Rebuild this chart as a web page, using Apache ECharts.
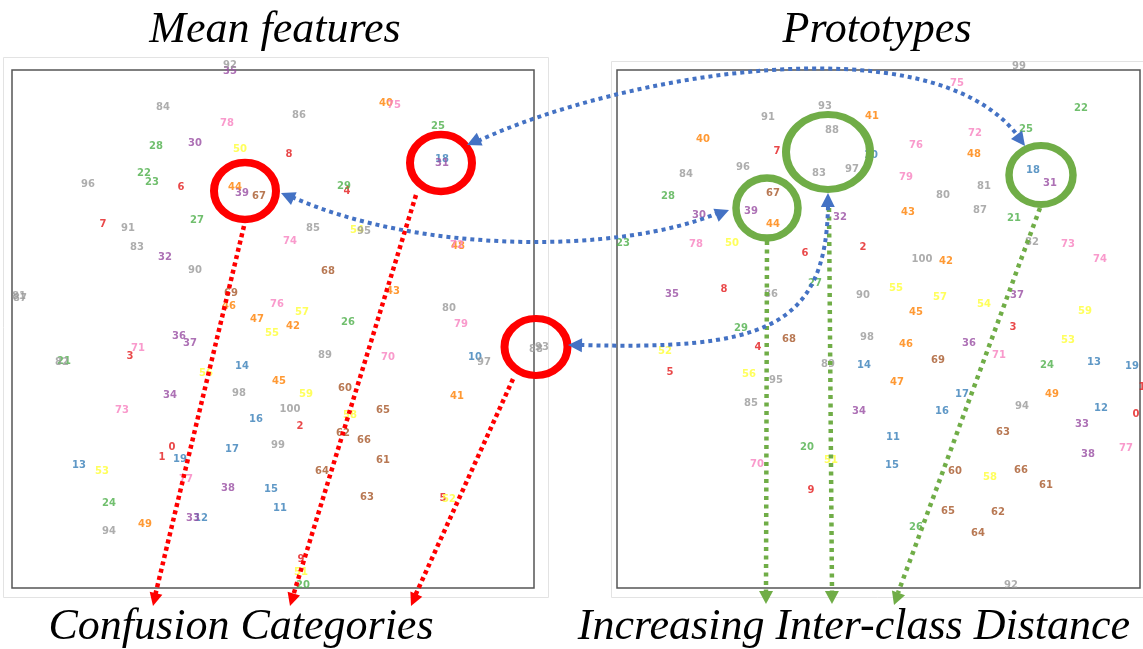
<!DOCTYPE html>
<html><head><meta charset="utf-8">
<script src="https://cdn.jsdelivr.net/npm/echarts@6/dist/echarts.min.js"></script>
<style>html,body{margin:0;padding:0;background:#fff}#c{width:1143px;height:649px}</style>
</head><body><div id="c"></div>
<script>
// class ids 0..100
const classIds = Array.from({length: 101}, (_, i) => i);
// Mean features embedding (left panel)
const meanX = [16.0,15.0,28.8,11.8,33.5,43.1,16.9,9.1,27.7,28.9,
 46.3,26.8,18.9,6.7,23.0,25.9,24.4,22.0,43.0,16.8,
 29.1,5.2,13.2,14.0,9.7,42.6,33.6,18.5,14.4,33.2,
 18.3,43.0,15.3,18.1,15.8,21.8,16.7,17.8,21.6,23.0,
 37.4,44.5,28.1,38.1,22.3,26.7,21.7,24.5,44.6,13.3,
 22.8,28.9,43.7,9.0,34.5,26.0,19.4,29.0,33.8,29.4,
 33.3,37.1,33.1,35.5,31.0,37.1,35.2,24.7,31.6,21.9,
 37.6,12.6,44.5,11.0,27.8,38.2,26.5,17.4,21.5,44.9,
 43.7,0.7,5.0,12.5,15.1,30.1,28.7,0.8,52.4,31.3,
 18.3,11.6,21.8,53.0,9.7,35.2,7.6,47.2,22.7,26.6,27.8];
const meanY = [14.1,13.1,16.2,23.2,39.7,9.0,40.1,36.4,43.4,2.9,
 23.1,8.0,7.0,12.3,22.2,9.9,16.9,13.9,42.9,12.9,
 0.3,22.7,41.5,40.6,8.5,46.2,26.6,36.8,44.2,40.2,
 44.5,42.5,33.1,7.0,19.3,51.7,25.2,24.5,10.0,39.5,
 48.5,19.2,26.2,29.7,40.1,20.7,28.2,26.9,34.2,6.4,
 43.9,1.6,8.9,11.7,35.8,25.5,21.5,27.6,17.3,19.4,
 20.0,12.8,15.5,9.1,11.7,17.8,14.8,39.2,31.7,29.5,
 23.1,24.0,34.3,17.8,34.7,48.3,28.4,10.9,46.5,26.4,
 28.0,29.2,22.6,34.1,48.1,36.0,47.3,29.0,23.9,23.3,
 31.8,36.0,52.3,24.1,5.7,35.7,40.4,22.6,19.5,14.3,17.9];
// Prototypes embedding (right panel)
const protoX = [51.9,52.5,24.6,39.6,14.1,5.3,18.8,16.0,10.7,19.4,
 25.4,27.6,48.4,47.7,24.7,27.5,32.5,34.5,41.6,51.5,
 19.0,39.7,46.4,0.6,43.0,40.9,29.9,19.8,5.1,12.4,
 8.2,43.3,22.3,46.5,24.2,5.5,35.2,40.0,47.1,13.4,
 8.6,25.5,32.9,29.1,15.6,29.9,28.9,28.0,35.7,43.5,
 11.5,21.4,4.8,45.1,36.7,27.9,13.2,32.3,37.3,46.8,
 33.8,42.9,38.1,38.6,36.1,33.1,40.4,15.6,17.2,32.1,
 14.0,38.2,35.8,45.1,48.3,34.0,29.9,50.9,7.9,28.9,
 32.6,36.7,41.5,20.2,6.9,13.4,15.4,36.3,21.5,21.1,
 24.6,15.1,39.4,20.8,40.5,15.9,12.6,23.5,25.0,40.2,30.5];
const protoY = [17.4,20.1,34.1,26.1,24.1,21.6,33.5,43.7,29.9,9.8,
 43.3,15.1,18.0,22.6,22.3,12.3,17.7,19.4,41.8,22.2,
 14.1,37.0,48.0,34.5,22.3,45.9,6.1,30.5,39.2,26.0,
 37.3,40.5,37.1,16.4,17.7,29.4,24.5,29.3,13.4,37.7,
 44.9,47.2,32.7,37.6,36.4,27.6,24.4,20.6,43.4,19.4,
 34.5,12.8,23.7,24.8,28.4,30.0,21.4,29.1,11.1,27.7,
 11.7,10.3,7.6,15.6,5.5,7.7,11.8,39.5,24.9,22.8,
 12.4,23.3,45.5,34.4,32.9,50.5,44.3,14.0,34.4,41.1,
 39.3,40.2,34.6,41.5,41.4,18.5,29.4,37.8,45.8,22.4,
 29.3,47.1,0.3,48.2,18.2,20.8,42.1,41.9,25.1,52.2,32.9];
const groupColors = ['#e41a1c','#377eb8','#4daf4a','#984ea3','#ff7f00',
 '#ffff33','#a65628','#f781bf','#999999','#999999'];
const topTitles = ['Mean features', 'Prototypes'];
const bottomTitles = ['Confusion Categories', 'Increasing Inter-class Distance'];

const panels = [
  {xs: meanX, ys: meanY, grid: {left: 12, top: 70, width: 522, height: 518}, xmax: 52.2},
  {xs: protoX, ys: protoY, grid: {left: 617, top: 70, width: 523, height: 518}, xmax: 52.3}
];

const series = [];
panels.forEach((p, pi) => {
  for (let g = 0; g < 10; g++) {
    const data = classIds.filter(id => Math.min(Math.floor(id / 10), 9) === g)
      .map(id => [p.xs[id], p.ys[id], String(id)]);
    series.push({
      type: 'scatter', xAxisIndex: pi, yAxisIndex: pi, data,
      symbolSize: 1, clip: false, silent: true,
      itemStyle: {color: 'rgba(0,0,0,0)'},
      label: {show: true, position: 'inside', formatter: d => d.data[2],
        color: groupColors[g], fontFamily: 'DejaVu Sans', fontWeight: 'bold', fontSize: 10}
    });
  }
});

const axisCommon = {axisLine: {show: false}, axisTick: {show: false}, axisLabel: {show: false}, splitLine: {show: false}};

// ---------- annotations ----------
const BLUE = '#4472c4', RED = '#ff0000', GREEN = '#70ad47';
const gfx = [];
function head(tx, ty, fx, fy, len, hw, color) {
  const dx = tx - fx, dy = ty - fy, L = Math.hypot(dx, dy);
  const ux = dx / L, uy = dy / L;
  const bx = tx - ux * len, by = ty - uy * len;
  gfx.push({type: 'polygon', z: 60, shape: {points: [[tx, ty], [bx - uy * hw, by + ux * hw], [bx + uy * hw, by - ux * hw]]},
    style: {fill: color}});
}
function dottedLine(x1, y1, x2, y2, color, lw, dash) {
  gfx.push({type: 'line', z: 55, shape: {x1, y1, x2, y2}, style: {stroke: color, lineWidth: lw, lineDash: dash, lineCap: 'butt'}});
}
function dottedCurve(x1, y1, cpx1, cpy1, cpx2, cpy2, x2, y2, color, lw, dash) {
  gfx.push({type: 'bezierCurve', z: 55, shape: {x1, y1, cpx1, cpy1, cpx2, cpy2, x2, y2},
    style: {stroke: color, lineWidth: lw, lineDash: dash, fill: null, lineCap: 'butt'}});
}
function ring(cx, cy, rx, ry, color, lw) {
  gfx.push({type: 'circle', z: 58, x: cx, y: cy, scaleX: 1, scaleY: ry / rx, shape: {cx: 0, cy: 0, r: rx},
    style: {fill: null, stroke: color, lineWidth: lw, strokeNoScale: true}});
}
// outer light frames
gfx.push({type: 'rect', z: 1, shape: {x: 3.5, y: 57.5, width: 545, height: 540}, style: {fill: null, stroke: '#e3e3e3', lineWidth: 1}});
gfx.push({type: 'rect', z: 1, shape: {x: 611.5, y: 61.5, width: 540, height: 536}, style: {fill: null, stroke: '#e3e3e3', lineWidth: 1}});
// titles
const tfont = {fontFamily: 'Liberation Serif', fontStyle: 'italic', fontSize: 44, fill: '#000', textAlign: 'center', textVerticalAlign: 'middle'};
gfx.push({type: 'text', z: 70, x: 275, y: 30, style: Object.assign({text: topTitles[0]}, tfont)});
gfx.push({type: 'text', z: 70, x: 877, y: 30, style: Object.assign({text: topTitles[1]}, tfont)});
gfx.push({type: 'text', z: 70, x: 241, y: 627, style: Object.assign({text: bottomTitles[0]}, tfont)});
gfx.push({type: 'text', z: 70, x: 854, y: 627, style: Object.assign({text: bottomTitles[1]}, tfont)});
// rings
ring(245, 191, 31, 28.5, RED, 8);
ring(441, 163, 31, 28.5, RED, 8);
ring(536, 347, 31.5, 28.5, RED, 8);
ring(767, 208, 31, 30, GREEN, 7.5);
ring(828, 152, 42, 37.5, GREEN, 8);
ring(1041, 175, 32, 29.5, GREEN, 7.5);
// red arrows
dottedLine(244, 226, 155, 596, RED, 4.5, [4, 3.5]); head(153, 606, 244, 226, 13, 6.5, RED);
dottedLine(416, 195, 293, 596, RED, 4.5, [4, 3.5]); head(290, 606, 416, 195, 13, 6.5, RED);
dottedLine(513, 379, 415, 596, RED, 4.5, [4, 3.5]); head(411, 606, 513, 379, 13, 6.5, RED);
// green arrows
dottedLine(767, 241, 766, 592, GREEN, 4.5, [4, 4.5]); head(766, 604, 767, 241, 13, 7, GREEN);
dottedLine(829, 208, 832, 592, GREEN, 4.5, [4, 4.5]); head(832, 604, 829, 208, 13, 7, GREEN);
dottedLine(1040, 208, 898, 593, GREEN, 4.5, [4, 4.5]); head(894, 605, 1040, 208, 13, 7, GREEN);
// blue arrows
dottedCurve(292, 197, 420, 254, 620, 254, 718, 213, BLUE, 4, [4, 4]);
head(281, 193, 420, 254, 14, 7, BLUE); head(729, 210, 620, 254, 14, 7, BLUE);
dottedCurve(478, 141, 620, 75, 930, 20, 1018, 136, BLUE, 4, [4, 4]);
head(467, 145, 620, 75, 14, 7, BLUE); head(1025, 146, 930, 20, 14, 7, BLUE);
dottedCurve(828, 206, 826, 330, 760, 350, 580, 345, BLUE, 4, [4, 4]);
head(828, 193, 826, 330, 14, 7, BLUE); head(568, 345, 760, 350, 14, 7, BLUE);

const chart = echarts.init(document.getElementById('c'), null, {renderer: 'canvas'});
chart.setOption({
  animation: false,
  backgroundColor: '#fff',
  grid: panels.map(p => Object.assign({show: true, borderColor: '#555', borderWidth: 1.5, backgroundColor: 'transparent'}, p.grid)),
  xAxis: panels.map((p, i) => Object.assign({type: 'value', gridIndex: i, min: 0, max: p.xmax}, axisCommon)),
  yAxis: panels.map((p, i) => Object.assign({type: 'value', gridIndex: i, min: 0, max: 51.8}, axisCommon)),
  series,
  graphic: gfx
});
</script>
</body></html>
